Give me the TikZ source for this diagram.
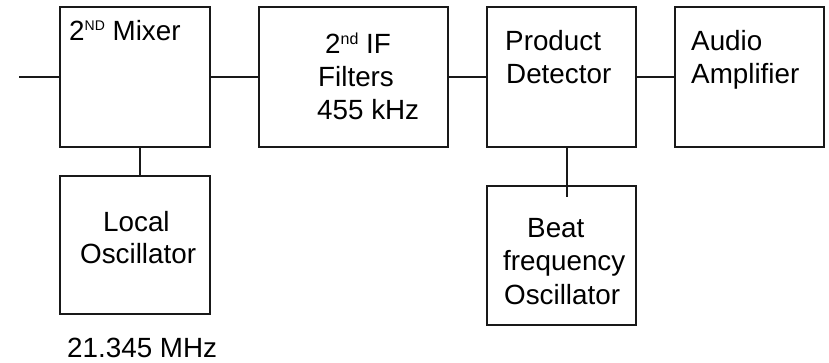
\documentclass[tikz,border=0pt]{standalone}
\usepackage{fontspec}
\setmainfont{Liberation Sans}
\begin{document}
\begin{tikzpicture}[x=1pt,y=-1pt,
  box/.style={draw=black!90, line width=2pt, rectangle, inner sep=0pt},
  lbl/.style={anchor=base west, inner sep=0pt, font=\fontsize{27.8}{33}\selectfont},
  wire/.style={draw=black!90, line width=2pt}]
\useasboundingbox (0,0) rectangle (829,362);
% boxes
\node[box, minimum width=150pt, minimum height=140pt] (mix) at (135,77) {};
\node[box, minimum width=189pt, minimum height=140pt] (ifb) at (353.5,77) {};
\node[box, minimum width=149pt, minimum height=140pt] (pd) at (561.5,77) {};
\node[box, minimum width=149pt, minimum height=140pt] (aa) at (749.5,77) {};
\node[box, minimum width=150pt, minimum height=138pt] (lo) at (135,245) {};
\node[box, minimum width=149pt, minimum height=139pt] (bfo) at (561.5,255.5) {};
% texts
\node[lbl] (tmix) at (69,40) {2\raisebox{9.5pt}{\fontsize{14}{14}\selectfont ND} Mixer};
\node[lbl] (tif1) at (325,53) {2\raisebox{8.2pt}{\fontsize{16}{16}\selectfont nd} IF};
\node[lbl] (tif2) at (318,86) {Filters};
\node[lbl] (tif3) at (317,119) {455 kHz};
\node[lbl] (tpd1) at (505,50) {Product};
\node[lbl] (tpd2) at (506,83) {Detector};
\node[lbl] (taa1) at (691,50) {Audio};
\node[lbl] (taa2) at (691,83) {Amplifier};
\node[lbl] (tlo1) at (103,231) {Local};
\node[lbl] (tlo2) at (80,263) {Oscillator};
\node[lbl] (tbf1) at (527,237) {Beat};
\node[lbl] (tbf2) at (503,270) {frequency};
\node[lbl] (tbf3) at (504,304) {Oscillator};
\node[lbl] (tfreq) at (67,357) {21.345 MHz};
% connectors
\coordinate (in) at (19,77);
\coordinate (xlo) at (140,0);
\coordinate (xbf) at (567,0);
\coordinate (bfend) at (567,197);
\draw[wire] (in) -- (mix.west);
\draw[wire] (mix.east) -- (ifb.west);
\draw[wire] (ifb.east) -- (pd.west);
\draw[wire] (pd.east) -- (aa.west);
\draw[wire] (mix.south -| xlo) -- (lo.north -| xlo);
\draw[wire] (pd.south -| xbf) -- (bfend);
\end{tikzpicture}
\end{document}
